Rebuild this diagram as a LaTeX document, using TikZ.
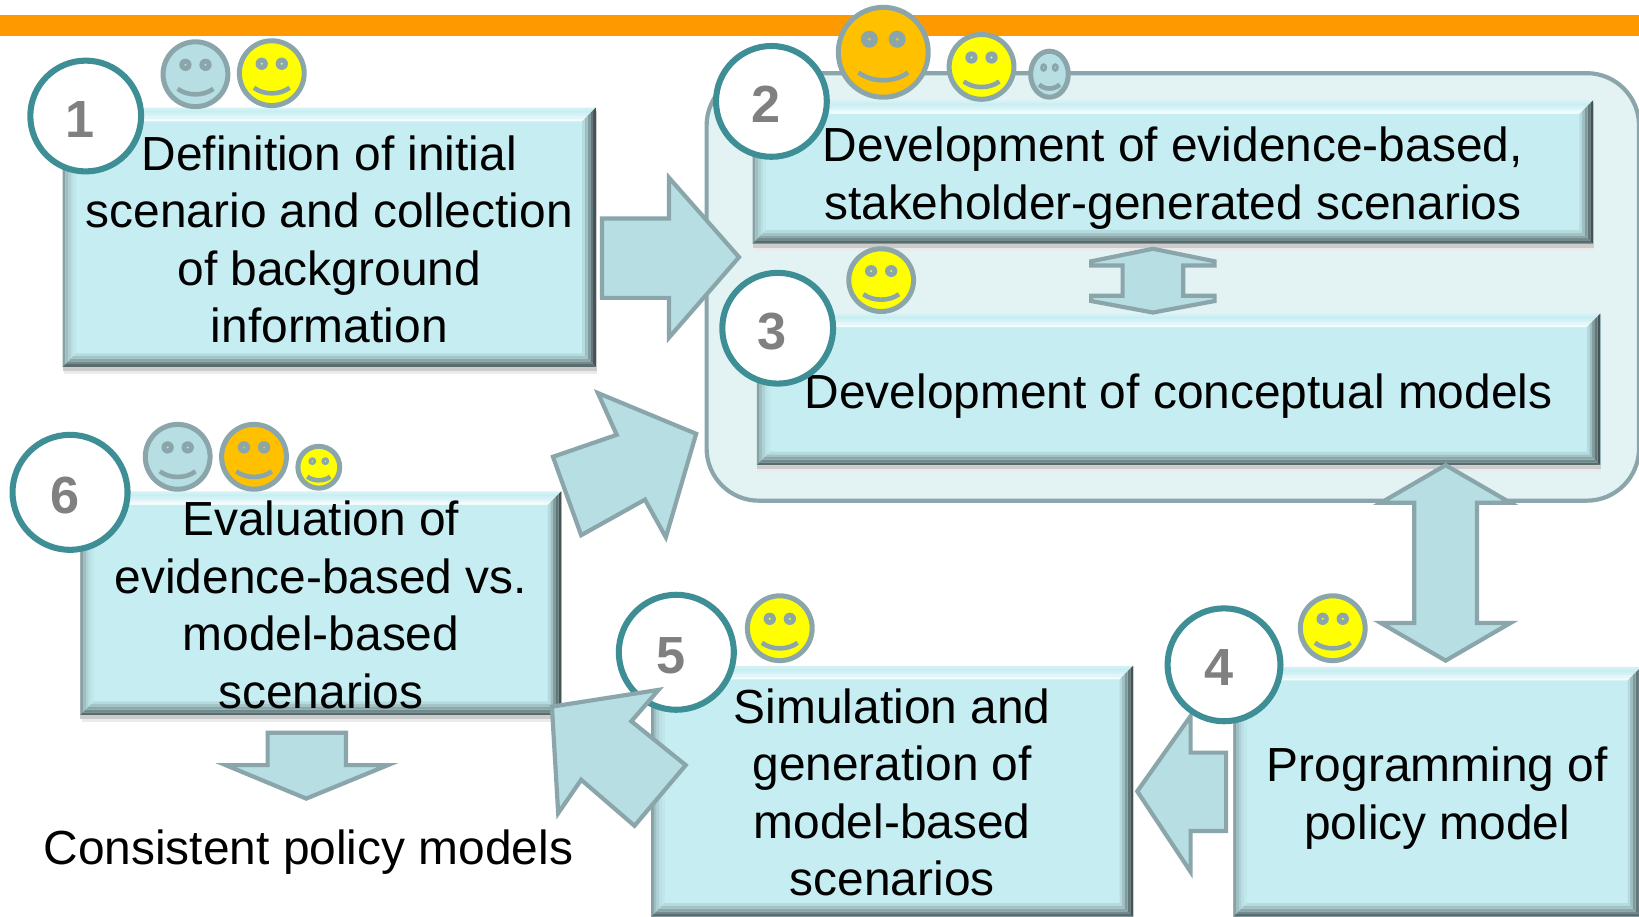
\documentclass[tikz,border=0pt]{standalone}
\usepackage{fontspec}
\setmainfont{Liberation Sans}
\definecolor{barc}{HTML}{FF9900}
\definecolor{boxc}{HTML}{C6EEF2}
\definecolor{contc}{HTML}{E3F3F4}
\definecolor{linec}{HTML}{8AA6AB}
\definecolor{arrc}{HTML}{B7DEE2}
\definecolor{ringc}{HTML}{3E8E96}
\definecolor{numc}{HTML}{808080}
\definecolor{yel}{HTML}{FFFF00}
\definecolor{ora}{HTML}{FFC000}
\tikzset{
  x=0.5pt,y=-0.5pt,
  number/.style={circle,draw=ringc,line width=2.9pt,fill=white,inner sep=0pt},
  numtxt/.style={text=numc,font=\fontsize{25}{25}\selectfont\bfseries,inner sep=0pt},
  blockarrow/.style={draw=linec,fill=arrc,line width=2pt,miter limit=6},
  plain/.style={font=\fontsize{22.9}{27.5}\selectfont,inner sep=0pt,align=center},
  smileline/.style={draw=linec,line width=2.4pt},
}
% bevelled box: #1 name, #2 left, #3 top, #4 right, #5 bottom, #6 text y offset, #7 text
\newcommand{\bevelbox}[7]{%
  \fill[black!8] (#2+1,#3+3) rectangle (#4+1,#5+7);
  \fill[black!20] (#2,#3+3) rectangle (#4+1,#5+4);
  \node[rectangle,fill=boxc,inner sep=0pt,minimum width={(#4-#2)*0.5pt},minimum height={(#5-#3)*0.5pt},anchor=north west] (#1) at (#2,#3) {};
  \foreach \k/\tc/\lc/\rc/\bc in {0/75!white/68!black/35!black/45!black,1/92!white/80!black/50!black/58!black,2/75!white/88!black/65!black/70!black,3/50!white/94!black/80!black/82!black,4/25!white/97!black/92!black/92!black}{%
    \pgfmathsetmacro{\da}{\k*2.6}\pgfmathsetmacro{\db}{(\k+1)*2.6}%
    \fill[boxc!\tc] (#2+\da,#3+\da) -- (#4-\da,#3+\da) -- (#4-\db,#3+\db) -- (#2+\db,#3+\db) -- cycle;
    \fill[boxc!\lc] (#2+\da,#3+\da) -- (#2+\db,#3+\db) -- (#2+\db,#5-\db) -- (#2+\da,#5-\da) -- cycle;
    \fill[boxc!\rc] (#4-\da,#3+\da) -- (#4-\db,#3+\db) -- (#4-\db,#5-\db) -- (#4-\da,#5-\da) -- cycle;
    \fill[boxc!\bc] (#2+\da,#5-\da) -- (#2+\db,#5-\db) -- (#4-\db,#5-\db) -- (#4-\da,#5-\da) -- cycle;
  }
  \node[plain] (#1t) at ({(#2+#4)/2},{(#3+#5)/2+#6}) {#7};
}
% numbered circle: #1 name, #2 x, #3 y, #4 radius, #5 number
\newcommand{\numcircle}[5]{%
  \node[number,minimum size={2*#4*0.5pt}] (#1) at (#2,#3) {};
  \node[numtxt] (#1n) at (#2-5,#3+3) {#5};
}
% smiley: #1 x, #2 y, #3 rx, #4 ry, #5 colour
\newcommand{\smiley}[5]{%
  \begin{scope}[shift={(#1,#2)}]
    \draw[smileline,fill=#5] (0,0) ellipse [x radius=#3,y radius=#4];
    \fill[linec] (-0.31*#3,-0.29*#4) ellipse [x radius=0.19*#3,y radius=0.19*#4];
    \fill[linec] (0.31*#3,-0.29*#4) ellipse [x radius=0.19*#3,y radius=0.19*#4];
    \fill[#5] (-0.31*#3,-0.29*#4) circle [radius=0.035*#3];
    \fill[#5] (0.31*#3,-0.29*#4) circle [radius=0.035*#3];
    \draw[linec,line width=2.2pt] (-0.55*#3,0.45*#4) .. controls (-0.25*#3,0.68*#4) and (0.25*#3,0.68*#4) .. (0.55*#3,0.45*#4);
  \end{scope}
}
\begin{document}
\begin{tikzpicture}
\useasboundingbox (0,0) rectangle (1568,877);
\fill[white] (0,0) rectangle (1568,877);
\fill[barc] (0,14) rectangle (1568,34.5);
% container
\begin{scope}
\clip (0,0) rectangle (1568,877);
\draw[draw=linec,fill=contc,line width=2pt] (726,70) -- (1518,70) arc[start angle=-90,end angle=0,radius=50] -- (1568,429) arc[start angle=0,end angle=90,radius=50] -- (726,479) arc[start angle=90,end angle=180,radius=50] -- (676,120) arc[start angle=180,end angle=270,radius=50] -- cycle;
\end{scope}
\bevelbox{b1}{60}{103}{570}{351}{2}{Definition of initial\\scenario and collection\\of background\\information}
\bevelbox{b2}{720}{96}{1524}{233}{6}{Development of evidence-based,\\stakeholder-generated scenarios}
\bevelbox{b3}{724}{300}{1531}{445}{6}{Development of conceptual models}
\bevelbox{b4}{1180}{638}{1570}{877}{6}{Programming of\\policy model}
\bevelbox{b5}{623}{637}{1084}{877}{1}{Simulation and\\generation of\\model-based\\scenarios}
\bevelbox{b6}{77}{470}{537}{684}{1.5}{Evaluation of\\evidence-based vs.\\model-based\\scenarios}
\node[plain] (out) at (295,815) {Consistent policy models};
% block arrows
\draw[blockarrow] (576,209) -- (640,209) -- (640,170) -- (707,246) -- (640,323) -- (640,285) -- (576,285) -- cycle;
\draw[blockarrow] (1103,238) -- (1162,250) -- (1162,254) -- (1132,254) -- (1132,283) -- (1162,283) -- (1162,288) -- (1103,299) -- (1044,288) -- (1044,283) -- (1074,283) -- (1074,254) -- (1044,254) -- (1044,250) -- cycle;
\draw[blockarrow] (1383,445) -- (1445,481) -- (1413,481) -- (1413,596) -- (1445,596) -- (1383,632) -- (1321,596) -- (1353,596) -- (1353,481) -- (1321,481) -- cycle;
\draw[blockarrow] (1088,757) -- (1139,685) -- (1139,720) -- (1173,720) -- (1173,795) -- (1139,795) -- (1139,834) -- cycle;
\draw[blockarrow] (666,415) -- (572,376) -- (590,416) -- (529,437) -- (556,512) -- (617,478) -- (637,514) -- cycle;
\draw[blockarrow] (256,701) -- (331,701) -- (331,732) -- (371,732) -- (293,764) -- (216,732) -- (256,732) -- cycle;
% numbered circles
\numcircle{c1}{82}{111}{53}{1}
\numcircle{c2}{738}{97}{53}{2}
\numcircle{c3}{744}{314}{53}{3}
\numcircle{c4}{1171}{636}{54}{4}
\numcircle{c5}{647}{624}{55}{5}
\numcircle{c6}{67}{471}{55}{6}
\draw[blockarrow] (528,676) -- (630,660) -- (604,690) -- (656,732) -- (607,790) -- (556,746) -- (534,778) -- cycle;
% smileys
\smiley{187}{71}{31}{31}{arrc}
\smiley{260}{70}{31}{31}{yel}
\smiley{845}{50}{43}{43}{ora}
\smiley{939}{64}{31}{31}{yel}
\smiley{1004}{71}{18}{22}{arrc}
\smiley{843}{268}{31}{30}{yel}
\smiley{1275}{601}{31}{31}{yel}
\smiley{746}{601}{31}{31}{yel}
\smiley{170}{437}{31}{31}{arrc}
\smiley{243}{437}{31}{31}{ora}
\smiley{305}{447}{20}{20}{yel}
\end{tikzpicture}
\end{document}
